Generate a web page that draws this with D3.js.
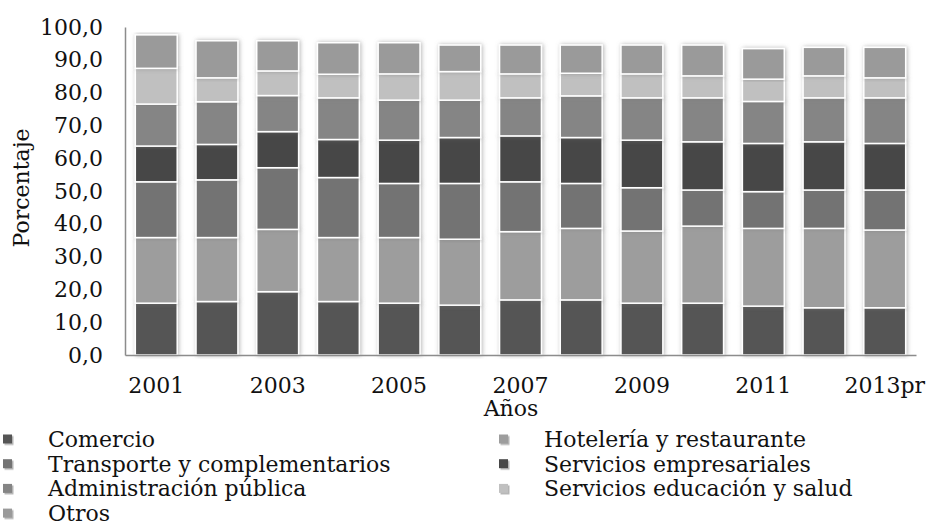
<!DOCTYPE html>
<html>
<head>
<meta charset="utf-8">
<script src="https://cdn.jsdelivr.net/npm/d3@7"></script>
<style>
  body{margin:0;background:#fff;}
  svg text{font-family:"DejaVu Serif",serif;fill:#111;}
</style>
</head>
<body>
<div id="chart"></div>
<script>
var years = ["2001","2002","2003","2004","2005","2006","2007","2008","2009","2010","2011","2012","2013pr"];
var seriesNames = ["Comercio","Hotelería y restaurante","Transporte y complementarios","Servicios empresariales","Administración pública","Servicios educación y salud","Otros"];
var comercio    = [15.8,16.3,19.3,16.3,15.8,15.2,16.8,16.8,15.8,15.8,14.9,14.4,14.4];
var hoteleria   = [20.0,19.5,19.0,19.5,20.0,20.1,20.8,21.8,22.0,23.5,23.7,24.2,23.7];
var transporte  = [17.0,17.6,18.8,18.3,16.5,17.0,15.2,13.7,13.2,11.0,11.2,11.7,12.2];
var servEmp     = [10.9,10.8,11.0,11.6,13.2,14.0,14.0,14.0,14.5,14.7,14.7,14.7,14.2];
var adminPub    = [12.8,13.0,11.0,12.7,12.2,11.4,11.6,12.7,12.9,13.4,12.8,13.4,13.9];
var educSalud   = [10.9,7.3,7.5,7.2,8.0,8.7,7.3,6.9,7.3,6.7,6.8,6.7,6.1];
var otros       = [10.2,11.3,9.2,9.6,9.5,8.1,8.8,8.6,8.8,9.4,9.3,8.7,9.3];
var yTicks = [0,10,20,30,40,50,60,70,80,90,100];
var colors = ["#555555","#9d9d9d","#737373","#474747","#858585","#c0c0c0","#9a9a9a"];

var width = 929, height = 527;
var margin = {left:125, right:13, top:27, bottom:172};
var fontSize = "22px";

var svg = d3.select("#chart").append("svg")
    .attr("width", width).attr("height", height);

var defs = svg.append("defs");
var f = defs.append("filter").attr("id","shadow")
    .attr("x","-20%").attr("y","-5%").attr("width","140%").attr("height","110%");
f.append("feDropShadow").attr("dx",1).attr("dy",0).attr("stdDeviation",2)
    .attr("flood-color","#777").attr("flood-opacity",0.55);
var f2 = defs.append("filter").attr("id","mshadow")
    .attr("x","-30%").attr("y","-30%").attr("width","180%").attr("height","180%");
f2.append("feDropShadow").attr("dx",1.5).attr("dy",1.5).attr("stdDeviation",0.6)
    .attr("flood-color","#aaa").attr("flood-opacity",0.9);

var seriesData = [comercio,hoteleria,transporte,servEmp,adminPub,educSalud,otros];
var rows = years.map(function(y,i){
    var r = {year:y};
    seriesNames.forEach(function(s,j){ r[s] = seriesData[j][i]; });
    return r;
});
var stack = d3.stack().keys(seriesNames)(rows);

var x = d3.scaleBand().domain(years)
    .range([margin.left, width-margin.right]).paddingInner(0.31).paddingOuter(0.17);
var y = d3.scaleLinear().domain([0,100]).range([height-margin.bottom, margin.top]);

// bars
var g = svg.append("g");
stack.forEach(function(layer,j){
    g.append("g").attr("filter","url(#shadow)")
      .selectAll("rect").data(layer).enter().append("rect")
        .attr("x", function(d){ return x(d.data.year); })
        .attr("width", x.bandwidth())
        .attr("y", function(d){ return y(d[1]); })
        .attr("height", function(d){ return y(d[0]) - y(d[1]); })
        .attr("fill", colors[j])
        .attr("stroke","#fff").attr("stroke-width",1.5);
});

// axes
var yAxis = svg.append("g").attr("transform","translate("+margin.left+",0)")
    .call(d3.axisLeft(y).tickValues(yTicks).tickSize(0).tickPadding(22)
        .tickFormat(function(d){ return d3.format(".1f")(d).replace(".",","); }));
yAxis.select(".domain").attr("stroke","#8c8c8c").attr("stroke-width",1.5);
yAxis.selectAll("text").style("font-size",fontSize).attr("fill","#111");

var xAxis = svg.append("g").attr("transform","translate(0,"+(height-margin.bottom)+")")
    .call(d3.axisBottom(x).tickSize(0).tickPadding(22)
        .tickFormat(function(d,i){ return i%2===0 ? d : ""; }));
xAxis.select(".domain").attr("stroke","#8c8c8c").attr("stroke-width",1.5);
xAxis.selectAll("text").style("font-size",fontSize).attr("fill","#111");

// axis titles
svg.append("text").attr("x",511).attr("y",416).attr("text-anchor","middle")
    .style("font-size",fontSize).text("Años");
svg.append("text").attr("transform","translate(29,188) rotate(-90)")
    .attr("text-anchor","middle").style("font-size",fontSize).text("Porcentaje");

// legend
var legend = svg.append("g");
seriesNames.forEach(function(s,i){
    var col = i%2, row = Math.floor(i/2);
    var lx = col===0 ? 3 : 499, ly = 439 + row*24.7;
    legend.append("rect").attr("x",lx).attr("y",ly-4.5).attr("width",9).attr("height",9)
        .attr("fill",colors[i]).attr("filter","url(#mshadow)");
    legend.append("text").attr("x",lx+45).attr("y",ly+8)
        .style("font-size",fontSize).text(s);
});
</script>
</body>
</html>
